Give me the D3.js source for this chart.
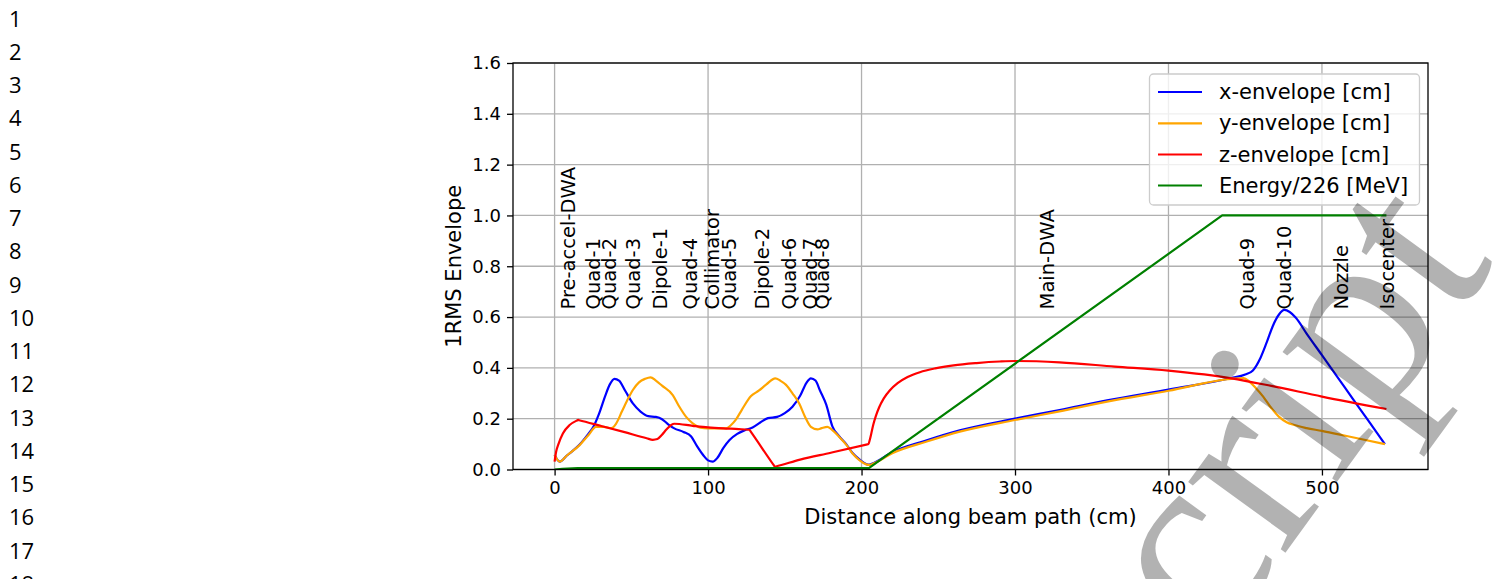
<!DOCTYPE html>
<html>
<head>
<meta charset="utf-8">
<script src="https://cdn.jsdelivr.net/npm/d3@7"></script>
<style>
  body { margin: 0; background: #fff; }
  svg { display: block; }
</style>
</head>
<body>
<svg id="chart"></svg>
<script>
// beam envelope along the beamline
var xEnvDist = [0, 3.3, 8, 16, 22, 25, 29, 33, 36, 39, 42, 46, 51, 56, 61, 66, 70, 74, 78, 84, 89, 93, 97, 100, 103, 106, 110, 114, 119, 124, 129, 134, 139, 145, 150, 155, 160, 164, 167, 170, 173, 177, 181, 185.4, 190, 194, 199, 203, 205, 208, 220, 242, 264, 300, 329, 360, 400, 441, 450, 455, 460, 464, 468, 472, 475.5, 479, 483, 490, 500, 510, 520, 530, 541];
var xEnvVal  = [0.057, 0.031, 0.055, 0.096, 0.14, 0.165, 0.22, 0.29, 0.335, 0.357, 0.35, 0.31, 0.26, 0.228, 0.21, 0.207, 0.198, 0.178, 0.162, 0.148, 0.13, 0.09, 0.055, 0.036, 0.031, 0.045, 0.085, 0.116, 0.14, 0.155, 0.165, 0.185, 0.202, 0.207, 0.222, 0.247, 0.29, 0.34, 0.359, 0.35, 0.31, 0.255, 0.17, 0.131, 0.1, 0.066, 0.038, 0.022, 0.019, 0.026, 0.068, 0.114, 0.154, 0.2, 0.234, 0.272, 0.315, 0.36, 0.374, 0.39, 0.44, 0.5, 0.565, 0.61, 0.628, 0.62, 0.597, 0.535, 0.45, 0.365, 0.279, 0.194, 0.1];

var yEnvDist = [0, 3.3, 8, 16.3, 22, 27, 32, 37, 40, 44, 48, 51, 55, 59, 62.5, 66, 70, 77, 81, 86, 90, 95, 100, 106, 111.7, 115, 118, 122, 128, 133, 138, 143.8, 147, 150.8, 155, 159.4, 163, 167, 171.3, 174, 177.8, 181, 185.4, 190, 194, 199, 203, 205, 208, 220, 242, 264, 300, 329, 360, 400, 441, 449, 452.7, 457, 461.7, 466, 471.9, 477, 482, 490, 500, 511, 523, 541];
var yEnvVal  = [0.057, 0.031, 0.055, 0.096, 0.135, 0.168, 0.168, 0.163, 0.18, 0.23, 0.28, 0.313, 0.343, 0.357, 0.363, 0.35, 0.33, 0.293, 0.25, 0.205, 0.182, 0.165, 0.162, 0.162, 0.162, 0.175, 0.195, 0.235, 0.289, 0.31, 0.335, 0.359, 0.35, 0.333, 0.3, 0.26, 0.21, 0.168, 0.158, 0.163, 0.168, 0.155, 0.129, 0.098, 0.064, 0.035, 0.02, 0.018, 0.024, 0.064, 0.109, 0.149, 0.195, 0.229, 0.267, 0.31, 0.357, 0.36, 0.346, 0.32, 0.287, 0.25, 0.208, 0.186, 0.175, 0.163, 0.152, 0.138, 0.123, 0.1];

var zEnvDist = [0, 1, 2.5, 5.4, 9.8, 14.6, 15.3, 16, 30, 45, 60, 64, 67, 70, 73, 76, 78, 90, 100, 110, 120, 126.3, 127, 127.7, 142.8, 143.5, 144.2, 160, 180, 203.8, 204.5, 205.3, 206.3, 207.6, 209.3, 211.5, 214.5, 218.5, 223.5, 230, 238, 248, 260, 275, 290, 300, 329, 365, 400, 441, 467, 500, 542];
var zEnvVal  = [0.031, 0.07, 0.1, 0.142, 0.175, 0.193, 0.195, 0.194, 0.172, 0.148, 0.123, 0.117, 0.12, 0.137, 0.158, 0.175, 0.18, 0.172, 0.166, 0.162, 0.159, 0.1565, 0.156, 0.15, 0.017, 0.011, 0.012, 0.039, 0.066, 0.099, 0.1, 0.115, 0.14, 0.175, 0.21, 0.245, 0.28, 0.312, 0.34, 0.364, 0.383, 0.398, 0.41, 0.419, 0.425, 0.427, 0.422, 0.405, 0.389, 0.359, 0.329, 0.287, 0.238];

var energyDist = [0, 5, 15, 205, 435, 542];
var energyVal  = [0, 0.003, 0.006, 0.006, 1.0, 1.0];

var seriesNames = ["x-envelope [cm]", "y-envelope [cm]", "z-envelope [cm]", "Energy/226 [MeV]"];
var seriesColors = ["#0000ff", "#ffa500", "#ff0000", "#008000"];

// beamline elements and where their labels sit (cm)
var elementNames = ["Pre-accel-DWA", "Quad-1", "Quad-2", "Quad-3", "Dipole-1", "Quad-4", "Collimator", "Quad-5", "Dipole-2", "Quad-6", "Quad-7", "Quad-8", "Main-DWA", "Quad-9", "Quad-10", "Nozzle", "Isocenter"];
var elementPos   = [1.3, 17.6, 28.6, 43.6, 61.8, 81.3, 95.6, 106.7, 128.2, 145.7, 159.4, 167.2, 314, 444.3, 467.8, 505.2, 535.4];
var labelY = 0.63;

var xTicks = [0, 100, 200, 300, 400, 500];
var yTicks = [0, 0.2, 0.4, 0.6, 0.8, 1.0, 1.2, 1.4, 1.6];
var lineNumbers = d3.range(1, 19);

var W = 1495, H = 579;
var plot = { left: 513, right: 1428, top: 63, bottom: 469.5 };

var svg = d3.select("#chart").attr("width", W).attr("height", H);
svg.append("rect").attr("width", W).attr("height", H).attr("fill", "#fff");

// manuscript line numbers
svg.append("g")
  .selectAll("text")
  .data(lineNumbers)
  .enter()
  .append("text")
  .attr("x", 9)
  .attr("y", function (d) { return 17.5 + (d - 1) * 33.25; })
  .attr("dominant-baseline", "central")
  .attr("font-family", "Open Sans, Noto Sans, sans-serif")
  .attr("font-size", 22)
  .attr("fill", "#000")
  .text(function (d) { return d; });

var x = d3.scaleLinear().domain([-27.1, 569.1]).range([plot.left, plot.right]);
var y = d3.scaleLinear().domain([0, 1.6]).range([plot.bottom, plot.top]);

var g = svg.append("g");

// grid
g.append("g").selectAll("line")
  .data(xTicks).enter().append("line")
  .attr("x1", function (d) { return x(d); })
  .attr("x2", function (d) { return x(d); })
  .attr("y1", plot.top).attr("y2", plot.bottom)
  .attr("stroke", "#b0b0b0").attr("stroke-width", 1.3);
g.append("g").selectAll("line")
  .data(yTicks).enter().append("line")
  .attr("y1", function (d) { return y(d); })
  .attr("y2", function (d) { return y(d); })
  .attr("x1", plot.left).attr("x2", plot.right)
  .attr("stroke", "#b0b0b0").attr("stroke-width", 1.3);

// clip to the axes box
svg.append("defs").append("clipPath").attr("id", "clip")
  .append("rect")
  .attr("x", plot.left).attr("y", plot.top)
  .attr("width", plot.right - plot.left).attr("height", plot.bottom - plot.top);

var series = [
  { dist: xEnvDist, val: xEnvVal, curve: d3.curveMonotoneX },
  { dist: yEnvDist, val: yEnvVal, curve: d3.curveMonotoneX },
  { dist: zEnvDist, val: zEnvVal, curve: d3.curveMonotoneX },
  { dist: energyDist, val: energyVal, curve: d3.curveLinear }
];

var lines = g.append("g").attr("clip-path", "url(#clip)");
series.forEach(function (s, i) {
  var line = d3.line()
    .x(function (d) { return x(s.dist[d]); })
    .y(function (d) { return y(s.val[d]); })
    .curve(s.curve);
  lines.append("path")
    .datum(d3.range(s.dist.length))
    .attr("d", line)
    .attr("fill", "none")
    .attr("stroke", seriesColors[i])
    .attr("stroke-width", 2.2)
    .attr("stroke-linejoin", "round");
});

// element labels
g.append("g").selectAll("text")
  .data(elementNames).enter().append("text")
  .attr("transform", function (d, i) {
    return "translate(" + (x(elementPos[i]) + 18) + "," + y(labelY) + ")rotate(-90)";
  })
  .attr("font-family", "DejaVu Sans, sans-serif")
  .attr("font-size", 19.5)
  .attr("fill", "#000")
  .text(function (d) { return d; });

// axes
var xAxis = g.append("g")
  .attr("transform", "translate(0," + plot.bottom + ")")
  .call(d3.axisBottom(x).tickValues(xTicks).tickSize(6).tickSizeOuter(0).tickPadding(6).tickFormat(d3.format("d")));
var yAxis = g.append("g")
  .attr("transform", "translate(" + plot.left + ",0)")
  .call(d3.axisLeft(y).tickValues(yTicks).tickSize(6).tickSizeOuter(0).tickPadding(6).tickFormat(d3.format(".1f")));
[xAxis, yAxis].forEach(function (a) {
  a.select(".domain").remove();
  a.attr("font-family", "DejaVu Sans, sans-serif").attr("font-size", 18);
  a.selectAll(".tick line").attr("stroke", "#000").attr("stroke-width", 1.3);
  a.selectAll(".tick text").attr("fill", "#000");
});

// spines
g.append("rect")
  .attr("x", plot.left).attr("y", plot.top)
  .attr("width", plot.right - plot.left).attr("height", plot.bottom - plot.top)
  .attr("fill", "none").attr("stroke", "#000").attr("stroke-width", 1.3);

g.append("text")
  .attr("x", (plot.left + plot.right) / 2)
  .attr("y", 524)
  .attr("text-anchor", "middle")
  .attr("font-family", "DejaVu Sans, sans-serif")
  .attr("font-size", 21)
  .attr("fill", "#000")
  .text("Distance along beam path (cm)");

g.append("text")
  .attr("transform", "translate(461," + ((plot.top + plot.bottom) / 2) + ")rotate(-90)")
  .attr("text-anchor", "middle")
  .attr("font-family", "DejaVu Sans, sans-serif")
  .attr("font-size", 21)
  .attr("fill", "#000")
  .text("1RMS Envelope");

// legend
var legend = g.append("g");
legend.append("rect")
  .attr("x", 1149.5).attr("y", 74).attr("width", 270).attr("height", 131)
  .attr("rx", 4)
  .attr("fill", "#fff").attr("fill-opacity", 0.8)
  .attr("stroke", "#cccccc").attr("stroke-width", 1.3);
var rowY = [92, 123.3, 154.5, 185.5];
seriesNames.forEach(function (name, i) {
  legend.append("line")
    .attr("x1", 1158).attr("x2", 1202)
    .attr("y1", rowY[i]).attr("y2", rowY[i])
    .attr("stroke", seriesColors[i]).attr("stroke-width", 2.2);
  legend.append("text")
    .attr("x", 1219).attr("y", rowY[i])
    .attr("dominant-baseline", "central")
    .attr("font-family", "DejaVu Sans, sans-serif")
    .attr("font-size", 21)
    .attr("fill", "#000")
    .text(name);
});

// manuscript watermark
svg.append("text")
  .attr("transform", "translate(1214,651)rotate(-54)")
  .attr("font-family", "Liberation Serif, serif")
  .attr("font-size", 262)
  .attr("fill", "#000")
  .attr("fill-opacity", 0.3)
  .text("cript");
</script>
</body>
</html>
